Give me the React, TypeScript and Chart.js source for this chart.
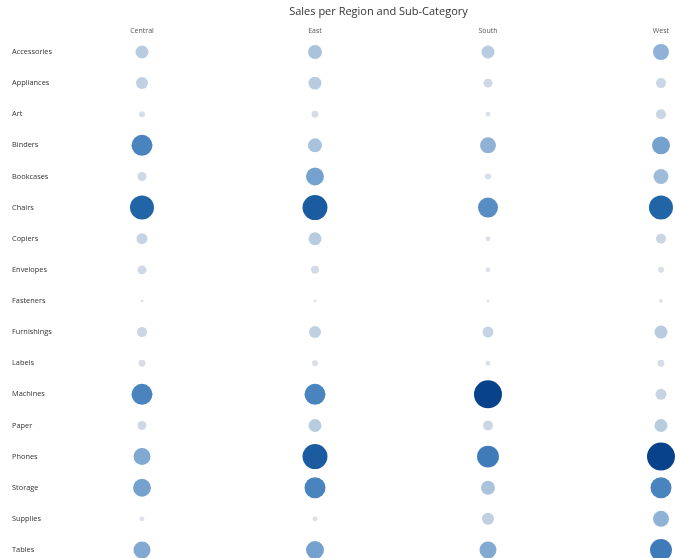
import React, { useEffect, useRef } from "react";
import { Chart, registerables } from "chart.js";

Chart.register(...registerables);

const regions = ["Central", "East", "South", "West"];
const subCategories = [
  "Accessories", "Appliances", "Art", "Binders", "Bookcases", "Chairs", "Copiers",
  "Envelopes", "Fasteners", "Furnishings", "Labels", "Machines", "Paper", "Phones",
  "Storage", "Supplies", "Tables",
];

// Sales in $K
const centralSales = [21, 18, 4.5, 55, 10, 72, 15, 10, 1.1, 12.5, 6, 55, 10, 36, 40, 3, 36];
const eastSales = [24.5, 21, 6, 24.5, 40, 78, 21, 8, 1.1, 18, 4.5, 55, 21, 78, 55, 3, 40];
const southSales = [21, 10, 3, 32, 4.5, 50, 3, 3, 1.1, 15, 3, 98, 12.5, 60, 24.5, 18, 36];
const westSales = [32, 12.5, 12.5, 40, 28, 72, 12.5, 4.5, 2, 21, 6, 15, 21, 98, 55, 32, 60];

const salesByRegion = [centralSales, eastSales, southSales, westSales];

const colorStops: [number, [number, number, number]][] = [
  [0, [226, 228, 232]],
  [0.2, [188, 206, 226]],
  [0.37, [128, 168, 210]],
  [0.56, [74, 132, 191]],
  [0.75, [31, 98, 165]],
  [1, [8, 66, 138]],
];

function colorFor(t: number) {
  for (let i = 1; i < colorStops.length; i++) {
    const [t1, c1] = colorStops[i];
    const [t0, c0] = colorStops[i - 1];
    if (t <= t1) {
      const f = (t - t0) / (t1 - t0);
      const c = c0.map((v, k) => Math.round(v + (c1[k] - v) * f));
      return `rgb(${c[0]},${c[1]},${c[2]})`;
    }
  }
  const c = colorStops[colorStops.length - 1][1];
  return `rgb(${c[0]},${c[1]},${c[2]})`;
}

export default function App() {
  const ref = useRef<HTMLCanvasElement>(null);

  useEffect(() => {
    document.body.style.margin = "0";
    document.documentElement.style.overflow = "hidden";
    document.body.style.overflow = "hidden";
    if (!ref.current) return;
    const maxV = Math.max(...salesByRegion.flat());
    const points: { x: number; y: number; v: number }[] = [];
    salesByRegion.forEach((arr, ri) =>
      arr.forEach((v, si) => points.push({ x: ri, y: si, v }))
    );
    const chart = new Chart(ref.current, {
      type: "bubble",
      data: {
        datasets: [
          {
            data: points as any,
            radius: (ctx: any) => Math.sqrt(ctx.raw.v / maxV) * 14,
            backgroundColor: (ctx: any) => colorFor(ctx.raw ? ctx.raw.v / maxV : 0),
            borderWidth: 0,
          } as any,
        ],
      },
      options: {
        animation: false,
        responsive: true,
        maintainAspectRatio: false,
        layout: { autoPadding: false, padding: { left: 12, right: 0, top: 0, bottom: 0 } },
        plugins: {
          legend: { display: false },
          tooltip: { enabled: false },
          title: {
            display: true,
            text: "Sales per Region and Sub-Category",
            fullSize: false,
            color: "#333",
            font: { family: "'Open Sans', sans-serif", size: 11, weight: "normal" },
            padding: { top: 5, bottom: 4 },
          },
        },
        scales: {
          x: {
            type: "linear",
            position: "top",
            min: -0.3468,
            max: 3.081,
            grid: { display: false, drawTicks: false },
            border: { display: false },
            afterBuildTicks: (s: any) => {
              s.ticks = regions.map((_, i) => ({ value: i }));
            },
            afterFit: (s: any) => {
              s.height = 15;
              s.paddingLeft = 0;
              s.paddingRight = 0;
            },
            ticks: {
              padding: 2,
              color: "#555",
              font: { family: "'Open Sans', sans-serif", size: 7 },
              callback: (v: any) => regions[v] ?? "",
            },
          },
          y: {
            type: "linear",
            reverse: true,
            min: -0.475,
            max: 16.258,
            grid: { display: false, drawTicks: false },
            border: { display: false },
            afterBuildTicks: (s: any) => {
              s.ticks = subCategories.map((_, i) => ({ value: i }));
            },
            afterFit: (s: any) => {
              s.width = 70;
              s.paddingTop = 0;
              s.paddingBottom = 0;
            },
            ticks: {
              crossAlign: "far",
              color: "#333",
              font: { family: "'Open Sans', sans-serif", size: 7.4 },
              callback: (v: any) => subCategories[v] ?? "",
            },
          },
        },
      } as any,
    });
    return () => chart.destroy();
  }, []);

  return (
    <div style={{ position: "fixed", left: 0, top: 0, width: "100vw", height: "100vh", background: "#fff", overflow: "hidden" }}>
      <canvas ref={ref} />
    </div>
  );
}
